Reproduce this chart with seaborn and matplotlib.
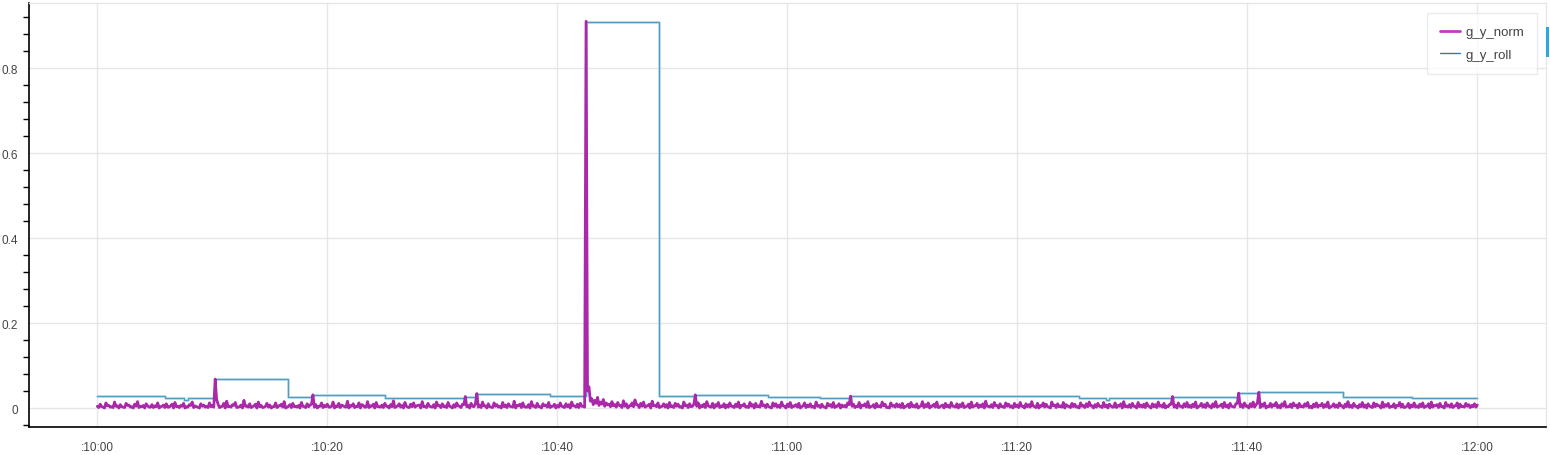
import numpy as np
import pandas as pd
import matplotlib
matplotlib.use('Agg')
import matplotlib.pyplot as plt
from matplotlib.lines import Line2D
from matplotlib.patches import Rectangle
from matplotlib.ticker import MultipleLocator
import seaborn as sns

# g_y_norm, samples on the quarter second from :10:00 (thousandths)
norm_raw = """
4 9 2 12 6 3 14 5 8 2 11 7 3 9 15 4 6 10 2 8
5 12 3 7 10 2 9 13 4 6 11 3 8 14 5 2 10 7 4 12
6 68 9 3 11 16 4 8 13 2 7 18 5 10 3 9 14 6 2 11
7 3 12 5 9 15 2 8 11 4 6 13 3 10 7 31 8 4 12 6
9 2 14 5 11 7 3 16 6 10 4 12 8 2 15 5 9 13 3 7
11 4 8 17 3 10 6 13 2 9 12 5 7 15 4 11 3 8 14 6
10 5 13 3 8 12 4 9 27 6 11 3 34 7 14 5 10 2 12 8
4 13 7 10 3 16 6 9 12 2 8 15 5 11 3 10 7 13 4 9
6 12 3 10 8 14 5 9 11 4 910 50 22 18 25 14 20 12 9 15
8 13 6 17 10 5 12 19 7 11 14 4 9 16 6 12 3 10 8 13
5 11 9 3 14 7 10 4 31 12 6 9 15 3 11 8 13 5 10 7
12 4 9 14 6 10 3 13 8 11 5 16 7 9 2 12 10 6 14 4
9 13 5 8 11 3 12 7 10 4 14 6 9 2 11 8 13 5 10 7
6 12 28 9 4 13 7 10 15 3 8 11 5 14 9 2 12 6 10 8
11 4 9 13 6 10 3 15 8 12 5 9 14 2 7 11 6 13 4 10
8 12 3 9 14 5 11 7 10 16 4 8 13 6 10 3 12 9 5 11
7 13 4 10 8 15 3 11 6 12 9 2 14 7 10 5 13 8 4 11
9 3 12 6 10 14 5 8 11 4 13 7 9 2 12 6 10 15 5 8
11 4 13 7 9 12 3 10 8 14 6 11 5 9 27 7 12 4 10 13
6 9 14 3 11 8 12 5 10 15 4 9 13 7 11 3 10 35 8 12
5 10 14 7 37 9 12 4 11 8 13 6 10 15 3 9 12 7 11 5
10 13 4 9 12 6 11 8 14 3 10 7 12 5 9 15 6 11 4 8
13 7 10 3 12 9 5 14 8 11 4 10 6 13 9 2 11 7 12 5
9 12 4 10 14 6 8 11 3 13 7 10 5 12 9 4 11 8 6 10
7
"""
# samples in between (the eighth-second readings)
norm_mid_raw = """
1 3 0 5 2 1 4 0 3 1 6 2 0 4 1 3 0 5 2 1
3 0 4 1 2 5 0 3 1 4 0 2 6 1 3 0 4 2 1 3
2 20 1 4 0 3 2 6 1 3 0 4 2 1 5 0 3 1 4 2
0 3 1 5 2 0 4 1 3 2 0 4 1 3 9 2 0 4 1 3
2 4 0 3 1 5 2 0 4 1 3 0 6 2 1 4 0 3 2 1
4 0 3 1 5 2 0 4 1 3 2 6 0 3 1 4 2 0 5 1
3 1 4 0 2 5 1 8 3 0 4 10 2 1 5 0 3 1 4 2
0 3 1 4 2 0 5 1 3 2 0 4 1 3 0 5 2 1 4 0
2 4 1 3 0 5 2 1 4 2 40 16 8 11 6 9 4 7 3 5
2 6 1 4 0 5 3 8 1 4 2 6 0 5 3 1 4 2 0 3
1 4 2 0 5 1 3 9 4 0 3 1 5 2 0 4 1 3 0 2
4 1 3 0 5 2 1 4 0 3 2 5 1 3 0 4 2 1 5 0
3 1 4 2 0 5 1 3 2 0 4 1 3 0 5 2 1 4 0 3
2 8 4 1 3 0 5 2 1 4 0 3 2 5 1 0 4 2 3 1
0 4 1 3 2 0 5 1 3 0 4 2 1 5 0 3 1 4 2 0
3 1 4 0 2 5 1 3 0 4 2 1 5 0 3 1 4 2 0 3
1 4 0 3 2 5 1 0 4 2 3 0 5 1 3 2 0 4 1 3
2 0 4 1 3 5 0 2 4 1 3 0 5 2 1 4 0 3 2 1
4 0 3 2 1 5 0 3 1 4 2 0 3 9 2 0 4 1 3 2
1 3 0 5 2 1 4 0 3 2 5 1 3 0 4 2 11 3 1 4
0 3 2 12 1 4 0 3 2 5 1 0 4 2 3 1 5 0 3 2
4 1 0 3 2 5 1 3 0 4 2 1 5 0 3 2 1 4 0 3
2 0 4 1 3 5 0 2 4 1 3 0 5 2 1 4 0 3 2 1
3 1 4 0 2 5 1 3 0 4 2 1 5 0 3 2 4 1 3 2
"""
norm_main = [int(v) / 1000 for v in norm_raw.split()]
norm_mid = [int(v) / 1000 for v in norm_mid_raw.split()]
norm_vals = []
for a, b in zip(norm_main[:-1], norm_mid):
    norm_vals += [a, b]
norm_vals.append(norm_main[-1])
norm_t = np.arange(len(norm_vals)) * 0.125

# g_y_roll step breakpoints (seconds after :10:00, value)
roll_t = [0, 5.9, 7.5, 7.9, 10.25, 16.6, 18.7, 25.0, 32.0, 33.0, 39.4, 42.5,
          48.8, 51.9, 58.3, 62.8, 65.5, 85.4, 87.7, 88.0, 93.5, 99.2, 101.0,
          108.3, 114.3, 120]
roll_vals = [0.0275, 0.023, 0.0196, 0.023, 0.068, 0.0266, 0.031, 0.023, 0.027,
             0.034, 0.028, 0.908, 0.0275, 0.031, 0.027, 0.023, 0.028, 0.023,
             0.0196, 0.023, 0.027, 0.0345, 0.037, 0.027, 0.023, 0.023]

x_ticks = [0, 20, 40, 60, 80, 100, 120]
x_labels = [':10:00', ':10:20', ':10:40', ':11:00', ':11:20', ':11:40', ':12:00']
y_ticks = [0, 0.2, 0.4, 0.6, 0.8]
y_labels = ['0', '0.2', '0.4', '0.6', '0.8']

norm_df = pd.DataFrame({'t': norm_t, 'v': norm_vals})
roll_df = pd.DataFrame({'t': roll_t, 'v': roll_vals})

sns.set_style('white')
plt.rcParams['font.family'] = ['Liberation Sans', 'DejaVu Sans']

W, H = 1550, 456
fig = plt.figure(figsize=(W / 100, H / 100), dpi=100)
ax = fig.add_axes([29 / W, (H - 428) / H, (1546 - 29) / W, (428 - 4) / H])

norm_c = '#ab28ab'
sns.lineplot(data=roll_df, x='t', y='v', ax=ax, color='#a3d0e3', lw=1.8,
             estimator=None, sort=False, drawstyle='steps-post', zorder=2)
sns.lineplot(data=roll_df, x='t', y='v', ax=ax, color='#4592b8', lw=0.6,
             estimator=None, sort=False, drawstyle='steps-post', zorder=2)
sns.lineplot(data=norm_df, x='t', y='v', ax=ax, color=norm_c, lw=2.0,
             estimator=None, sort=False, zorder=3)

ax.set_xlim(-5.94, 125.97)
ax.set_ylim(-0.0447, 0.953)
ax.set_xticks(x_ticks)
ax.set_xticklabels(x_labels)
ax.set_yticks(y_ticks)
ax.set_yticklabels(y_labels)
ax.yaxis.set_minor_locator(MultipleLocator(0.04))
ax.set_xlabel('')
ax.set_ylabel('')

ax.grid(True, color='#e6e6e6', lw=1)
ax.set_axisbelow(True)
for side in ['top', 'right']:
    ax.spines[side].set_color('#e6e6e6')
    ax.spines[side].set_linewidth(1)
for side in ['left', 'bottom']:
    ax.spines[side].set_color('black')
    ax.spines[side].set_linewidth(1.2)

ax.tick_params(axis='both', which='major', direction='inout', length=8,
               width=1, colors='black', labelcolor='#444444', labelsize=8.5)
ax.tick_params(axis='y', which='minor', direction='out', length=4, width=1,
               colors='black', left=True)
ax.tick_params(axis='x', pad=6)
ax.tick_params(axis='y', pad=4)

handles = [Line2D([], [], color='#c03cc0', lw=2),
           Line2D([], [], color='#2f7fa8', lw=1)]
leg = ax.legend(handles, ['g_y_norm', 'g_y_roll'], loc='upper right',
                bbox_to_anchor=((1537 - 29) / 1517, (428 - 14) / 424),
                borderaxespad=0, frameon=True, fancybox=False, fontsize=9.5,
                handlelength=1.5, handletextpad=0.4, labelspacing=0.75,
                borderpad=1.0)
leg.get_frame().set_edgecolor('#e6e6e6')
leg.get_frame().set_linewidth(1)
for t in leg.get_texts():
    t.set_color('#444444')

# toolbar marker at the right edge
fig.add_artist(Rectangle((1546 / W, (H - 58) / H), 3 / W, 30 / H,
                         transform=fig.transFigure, color='#26aae1', lw=0))

fig.savefig('out.png', dpi=100)
